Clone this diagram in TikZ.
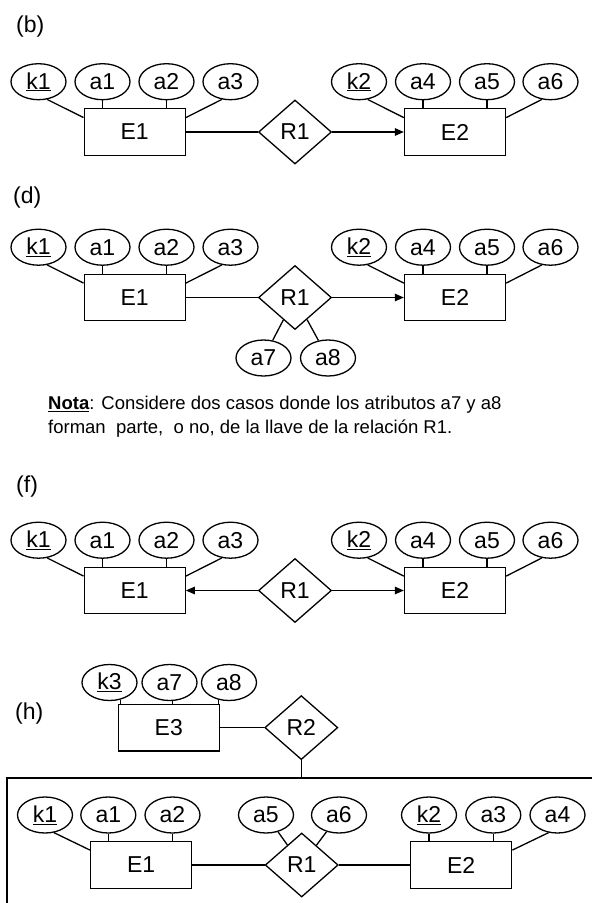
\documentclass[tikz,border=0pt]{standalone}
\usepackage{fontspec}
\setmainfont{Liberation Sans}
\usetikzlibrary{shapes.geometric,arrows.meta}
\newcommand\ERsection[2]{%
  \node[attr] (#1k1) at (38.5,{#2+81.7}) {\underline{k1}};
  \node[attr] (#1a1) at (102.5,{#2+81.7}) {a1};
  \node[attr] (#1a2) at (166.5,{#2+81.7}) {a2};
  \node[attr] (#1a3) at (230.5,{#2+81.7}) {a3};
  \node[ent] (#1E1) at (134.7,{#2+132}) {E1};
  \node[rel] (#1R1) at (295,{#2+132}) {R1};
  \node[ent] (#1E2) at (455,{#2+132}) {E2};
  \node[attr] (#1k2) at (359,{#2+81.7}) {\underline{k2}};
  \node[attr] (#1a4) at (423,{#2+81.7}) {a4};
  \node[attr] (#1a5) at (487,{#2+81.7}) {a5};
  \node[attr] (#1a6) at (550.5,{#2+81.7}) {a6};
  \draw[conn] (#1k1.-64) -- ([yshift=-9.5pt]#1E1.north west);
  \draw[conn] (#1a1) -- (#1a1 |- #1E1.north);
  \draw[conn] (#1a2) -- (#1a2 |- #1E1.north);
  \draw[conn] (#1a3.-116) -- ([yshift=-9.5pt]#1E1.north east);
  \draw[conn] (#1k2.-64) -- ([yshift=-9.5pt]#1E2.north west);
  \draw[conn] (#1a4) -- (#1a4 |- #1E2.north);
  \draw[conn] (#1a5) -- (#1a5 |- #1E2.north);
  \draw[conn] (#1a6.-116) -- ([yshift=-9.5pt]#1E2.north east);
}
\begin{document}
\begin{tikzpicture}[x=1pt,y=-1pt,
  every node/.style={font=\fontsize{23}{27}\selectfont},
  attr/.style={draw,ellipse,minimum width=55pt,minimum height=36pt,inner sep=0pt,line width=1.3pt},
  ent/.style={draw,rectangle,minimum width=101pt,minimum height=46.5pt,inner sep=0pt,line width=1.3pt},
  rel/.style={draw,diamond,minimum width=73pt,minimum height=64pt,inner sep=0pt,line width=1.3pt},
  conn/.style={line width=1.3pt},
  arr/.style={conn,-{Triangle[length=9pt,width=7.5pt]}},
  lbl/.style={anchor=west,inner sep=0pt},
  notetext/.style={anchor=base west,inner sep=0pt,font=\fontsize{18.5}{23.5}\selectfont},
]
\useasboundingbox[fill=white] (0,0) rectangle (592,903);

% (b)
\node[lbl] (lb) at (16,26.7) {(b)};
\ERsection{b}{0}
\draw[conn] (bE1) -- (bR1);
\draw[arr] (bR1) -- (bE2);

% (d)
\node[lbl] (ld) at (13,197.5) {(d)};
\ERsection{d}{165.5}
\draw[conn] (dE1) -- (dR1);
\draw[arr] (dR1) -- (dE2);
\node[attr] (da7) at (263.5,358) {a7};
\node[attr] (da8) at (328,358) {a8};
\draw[conn] (da7) -- (dR1);
\draw[conn] (da8) -- (dR1);
\node[notetext] (nota1) at (48,409.5) {\underline{\textbf{Nota}}: Considere dos casos donde los atributos a7 y a8};
\node[notetext] (nota2) at (48,433) {forman\ \ parte,\ \ o no, de la llave de la relación R1.};

% (f)
\node[lbl] (lf) at (16,487) {(f)};
\ERsection{f}{458.5}
\draw[arr] (fR1) -- (fE1);
\draw[arr] (fR1) -- (fE2);

% (h)
\node[lbl] (lh) at (15,714) {(h)};
\node[attr] (hk3) at (109.5,682.5) {\underline{k3}};
\node[attr] (ha7) at (169.5,682.5) {a7};
\node[attr] (ha8) at (229,682.5) {a8};
\node[ent] (hE3) at (168.8,727.6) {E3};
\node[rel] (hR2) at (301.3,727.6) {R2};
\draw[conn] (hk3.-58) -- (hk3.-58 |- hE3.north);
\draw[conn] (ha7.-80) -- (ha7.-80 |- hE3.north);
\draw[conn] (ha8.-122) -- (ha8.-122 |- hE3.north);
\draw[conn] (hE3) -- (hR2);
\coordinate (agg) at (301.3,778.3);
\draw[line width=2.2pt] (592,778.3) -- (7.3,778.3) -- (7.3,903);
\draw[conn] (hR2) -- (agg);

\node[attr] (hk1) at (45,815) {\underline{k1}};
\node[attr] (ha1) at (108.3,815) {a1};
\node[attr] (ha2) at (172.5,815) {a2};
\node[attr] (ha5) at (266,815) {a5};
\node[attr] (ha6) at (339,815) {a6};
\node[attr] (hk2) at (429,815) {\underline{k2}};
\node[attr] (ha3) at (493.3,815) {a3};
\node[attr] (ha4) at (557.5,815) {a4};
\node[ent] (hE1) at (141.2,865) {E1};
\node[rel] (hR1) at (301.7,865) {R1};
\node[ent] (hE2) at (461.2,865) {E2};
\draw[conn] (hk1.-63) -- ([yshift=-9pt]hE1.north west);
\draw[conn] (ha1) -- (ha1 |- hE1.north);
\draw[conn] (ha2) -- (ha2 |- hE1.north);
\draw[conn] (ha5) -- (hR1);
\draw[conn] (ha6) -- (hR1);
\draw[conn] (hk2) -- (hk2 |- hE2.north);
\draw[conn] (ha3) -- (ha3 |- hE2.north);
\draw[conn] (ha4.-117) -- ([yshift=-9pt]hE2.north east);
\draw[conn] (hE1) -- (hR1);
\draw[conn] (hR1) -- (hE2);
\end{tikzpicture}
\end{document}
